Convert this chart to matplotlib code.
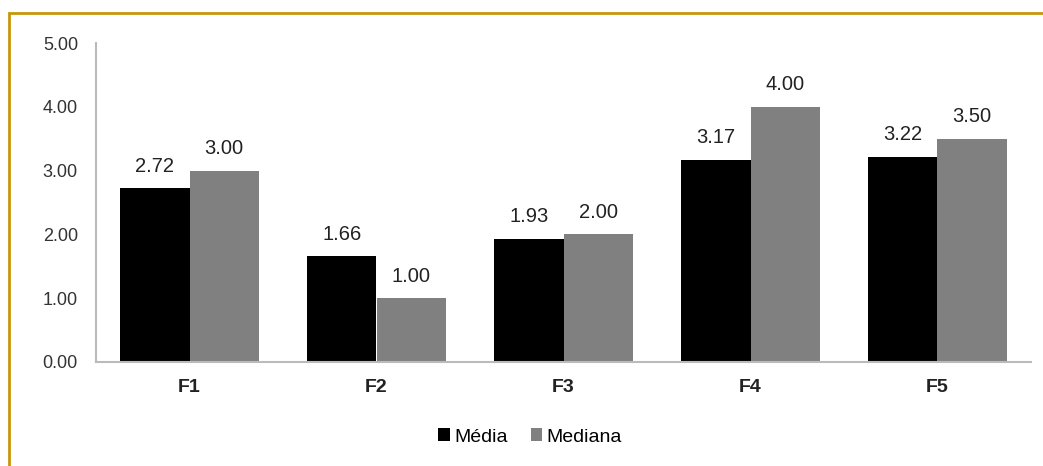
import matplotlib
matplotlib.use("Agg")
import matplotlib.pyplot as plt
from matplotlib.patches import Rectangle
import numpy as np

categories = ["F1", "F2", "F3", "F4", "F5"]
media = [2.72, 1.66, 1.93, 3.17, 3.22]
mediana = [3.00, 1.00, 2.00, 4.00, 3.50]
yticks = [0, 1, 2, 3, 4, 5]

plt.rcParams['font.family'] = ['Liberation Sans', 'DejaVu Sans']

fig = plt.figure(figsize=(10.43, 4.66), dpi=100)
ax = fig.add_axes([96/1043, 1 - 362/466, 935/1043, (362 - 43)/466])

x = np.arange(len(categories))
w = 0.37
b1 = ax.bar(x - w/2, media, w, color="#000000", label="Média")
b2 = ax.bar(x + w/2, mediana, w, color="#808080", label="Mediana")

for bars in (b1, b2):
    for r in bars:
        ax.annotate(f"{r.get_height():.2f}", (r.get_x() + r.get_width()/2, r.get_height()),
                    xytext=(0, 9), textcoords="offset points", ha="center", va="bottom",
                    fontsize=14.5, color="#222222")

ax.set_xlim(-0.5, len(categories) - 0.5)
ax.set_ylim(0, 5)
ax.set_yticks(yticks)
ax.set_yticklabels([f"{v:.2f}" for v in yticks], fontsize=13, color="#333333")
ax.set_xticks(x)
ax.set_xticklabels(categories, fontsize=14, fontweight="bold", color="#222222")
ax.tick_params(axis="y", length=0, pad=13)
ax.tick_params(axis="x", length=0, pad=12)
for s in ("top", "right"):
    ax.spines[s].set_visible(False)
for s in ("left", "bottom"):
    ax.spines[s].set_color("#BBBBBB")
    ax.spines[s].set_linewidth(1.5)

fig.legend(handles=[b1, b2], labels=["Média", "Mediana"], loc="center",
           bbox_to_anchor=(530/1043, 1 - 437/466), ncol=2, frameon=False,
           fontsize=14, handlelength=0.6, handleheight=0.6, handletextpad=0.2,
           columnspacing=1.2)

fig.patches.append(Rectangle((9/1043, -0.1), 1.2, 1 - 13/466 + 0.1, transform=fig.transFigure,
                             fill=False, edgecolor="#C8960C", linewidth=2))

fig.savefig("out.png", dpi=100)
